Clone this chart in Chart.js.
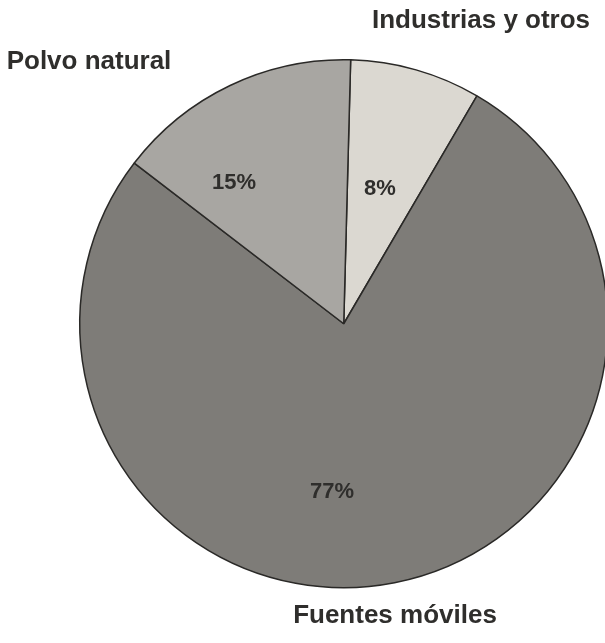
<!DOCTYPE html>
<html>
<head>
<meta charset="utf-8">
<script src="https://cdn.jsdelivr.net/npm/chart.js@4/dist/chart.umd.min.js"></script>
<style>
  html, body { margin: 0; padding: 0; background: #fff; overflow: hidden; }
  #wrap { width: 700px; height: 643px; }
</style>
</head>
<body>
<div id="wrap"><canvas id="pie" width="700" height="643"></canvas></div>
<script>
'use strict';

// sources, clockwise from the top
const fuentes = ['Industrias y otros', 'Fuentes móviles', 'Polvo natural'];
const porcentajes = [8, 77, 15];
const grises = ['#dbd8d1', '#7e7c78', '#a8a6a2'];

// where each percentage sits inside its slice (degrees from 12 o'clock, fraction of radius)
const posPct = [
  { ang: 15, r: 0.53 },
  { ang: 184, r: 0.64 },
  { ang: -38, r: 0.675 }
];

// outer names, placed around the pie
const posNombres = [
  { x: 481, y: 21 },
  { x: 395, y: 616 },
  { x: 89, y: 62 }
];

const FONT = '"Liberation Sans", Arial, sans-serif';

const etiquetas = {
  id: 'etiquetas',
  afterDatasetsDraw(chart) {
    const ctx = chart.ctx;
    const arc = chart.getDatasetMeta(0).data[0];
    const cx = arc.x, cy = arc.y, R = arc.outerRadius;
    ctx.save();
    ctx.textAlign = 'center';
    ctx.textBaseline = 'middle';
    ctx.fillStyle = '#2f2e2c';

    ctx.font = 'bold 22px ' + FONT;
    porcentajes.forEach((v, i) => {
      const a = posPct[i].ang * Math.PI / 180;
      const r = posPct[i].r * R;
      ctx.fillText(v + '%', cx + Math.sin(a) * r, cy - Math.cos(a) * r);
    });

    ctx.font = 'bold 26px ' + FONT;
    fuentes.forEach((t, i) => {
      ctx.fillText(t, posNombres[i].x, posNombres[i].y);
    });
    ctx.restore();
  }
};

new Chart(document.getElementById('pie'), {
  type: 'pie',
  data: {
    labels: fuentes,
    datasets: [{
      data: porcentajes,
      backgroundColor: grises,
      borderColor: '#2a2927',
      borderWidth: 1.5,
      hoverOffset: 0
    }]
  },
  options: {
    responsive: false,
    animation: false,
    devicePixelRatio: 1,
    rotation: 1.5,
    layout: { padding: { left: 79, right: 91.5, top: 59, bottom: 54.5 } },
    plugins: {
      legend: { display: false },
      tooltip: { enabled: false }
    }
  },
  plugins: [etiquetas]
});
</script>
</body>
</html>
